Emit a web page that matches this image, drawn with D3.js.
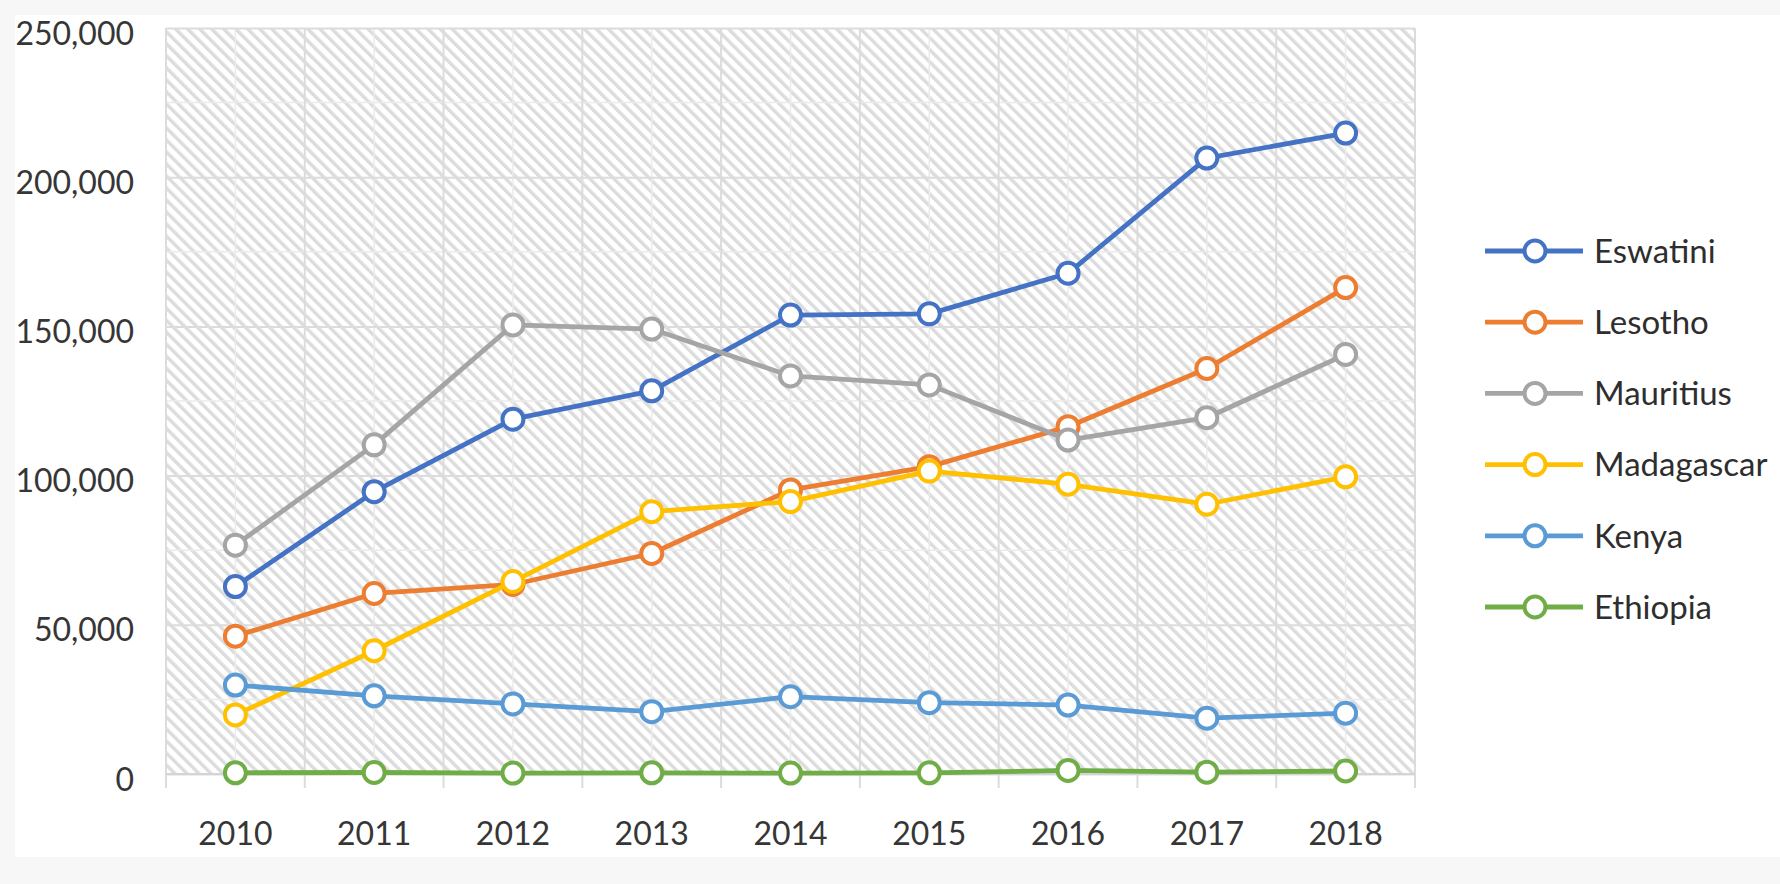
<!DOCTYPE html>
<html>
<head>
<meta charset="utf-8">
<script src="https://cdn.jsdelivr.net/npm/d3@7"></script>
<style>
  html, body { margin: 0; padding: 0; background: #f7f7f7; }
  svg { display: block; }
  text { font-family: Lato, "Open Sans", sans-serif; }
</style>
</head>
<body>
<svg id="chart" width="1780" height="884"></svg>
<script>
// ---- data ----
const years = ["2010", "2011", "2012", "2013", "2014", "2015", "2016", "2017", "2018"];
const seriesNames = ["Eswatini", "Lesotho", "Mauritius", "Madagascar", "Kenya", "Ethiopia"];
const eswatini   = [62800, 94600, 118900, 128400, 153800, 154200, 167800, 206400, 214800];
const lesotho    = [46200, 60500, 63500, 73900, 95200, 103000, 116400, 135900, 163000];
const mauritius  = [76700, 110300, 150500, 149100, 133400, 130400, 111900, 119400, 140600];
const madagascar = [19800, 41300, 64500, 87900, 91300, 101500, 97100, 90400, 99600];
const kenya      = [29800, 26200, 23500, 20900, 25900, 23900, 23100, 18700, 20400];
const ethiopia   = [400, 500, 300, 400, 300, 400, 1200, 600, 1000];
const yTicks = [0, 50000, 100000, 150000, 200000, 250000];
const colors = ["#4472C4", "#ED7D31", "#A5A5A5", "#FFC000", "#5B9BD5", "#70AD47"];

const seriesValues = [eswatini, lesotho, mauritius, madagascar, kenya, ethiopia];
const series = seriesNames.map((name, i) => ({
  name, color: colors[i],
  values: years.map((yr, j) => ({ year: yr, value: seriesValues[i][j] }))
}));

// ---- layout ----
const W = 1780, H = 884;
const plot = { left: 166, right: 1415, top: 28, bottom: 774 };
const svg = d3.select("#chart");

svg.append("rect").attr("x", 0).attr("y", 0).attr("width", W).attr("height", H).attr("fill", "#f7f7f7");
svg.append("rect").attr("x", 15).attr("y", 15).attr("width", W - 15).attr("height", 842).attr("fill", "#ffffff");

// hatch pattern
const defs = svg.append("defs");
const pat = defs.append("pattern")
  .attr("id", "hatch").attr("patternUnits", "userSpaceOnUse")
  .attr("width", 8.5).attr("height", 8.5)
  .attr("patternTransform", "rotate(-45)");
pat.append("rect").attr("width", 8.5).attr("height", 8.5).attr("fill", "#ffffff");
pat.append("rect").attr("x", 0).attr("y", 0).attr("width", 3.4).attr("height", 8.5).attr("fill", "#dcdcdc");

const x = d3.scaleBand().domain(years).range([plot.left, plot.right]).padding(0);
const y = d3.scaleLinear().domain([0, 250000]).range([plot.bottom, plot.top]);
const cx = d => x(d) + x.bandwidth() / 2;

// plot area hatch
svg.append("rect")
  .attr("x", plot.left).attr("y", plot.top)
  .attr("width", plot.right - plot.left).attr("height", plot.bottom - plot.top)
  .attr("fill", "url(#hatch)");

// faint minor lines (category centres and half steps)
const minor = svg.append("g").attr("class", "minor");
minor.selectAll("line.mv").data(years).join("line")
  .attr("x1", d => cx(d)).attr("x2", d => cx(d))
  .attr("y1", plot.top).attr("y2", plot.bottom)
  .attr("stroke", "#ebebeb").attr("stroke-width", 1.5);
minor.selectAll("line.mh").data(d3.range(25000, 250000, 50000)).join("line")
  .attr("x1", plot.left).attr("x2", plot.right)
  .attr("y1", d => y(d)).attr("y2", d => y(d))
  .attr("stroke", "#ebebeb").attr("stroke-width", 1.5);

// horizontal gridlines via axis
const gy = svg.append("g")
  .attr("transform", `translate(${plot.left},0)`)
  .call(d3.axisLeft(y).tickValues(yTicks).tickSize(-(plot.right - plot.left)).tickFormat(""));
gy.select(".domain").remove();
gy.selectAll(".tick line").attr("stroke", "#dcdcdc").attr("stroke-width", 2);

// vertical gridlines at category boundaries (extend below as tick marks)
const bounds = years.map(d => x(d)).concat([plot.right]);
svg.append("g").selectAll("line").data(bounds).join("line")
  .attr("x1", d => d).attr("x2", d => d)
  .attr("y1", plot.top).attr("y2", plot.bottom + 14)
  .attr("stroke", "#dcdcdc").attr("stroke-width", 2);

// bottom axis line
svg.append("line")
  .attr("x1", plot.left).attr("x2", plot.right)
  .attr("y1", plot.bottom).attr("y2", plot.bottom)
  .attr("stroke", "#d4d4d4").attr("stroke-width", 2);

// y axis labels
const yAxis = svg.append("g")
  .attr("transform", `translate(134,0)`)
  .call(d3.axisLeft(y).tickValues(yTicks).tickSize(0).tickPadding(0).tickFormat(d3.format(",")));
yAxis.select(".domain").remove();
yAxis.selectAll(".tick text")
  .attr("font-size", 32).attr("fill", "#363636").attr("dy", "0.5em")
  .style("font-family", "Lato, 'Open Sans', sans-serif");

// x axis labels
const xAxis = svg.append("g")
  .attr("transform", `translate(0,${plot.bottom})`)
  .call(d3.axisBottom(x).tickSize(0).tickPadding(0));
xAxis.select(".domain").remove();
xAxis.selectAll(".tick text")
  .attr("font-size", 32).attr("fill", "#363636").attr("y", 60).attr("dy", "0.35em")
  .style("font-family", "Lato, 'Open Sans', sans-serif");

// lines + markers
const line = d3.line().x(d => cx(d.year)).y(d => y(d.value));
series.forEach(s => {
  const g = svg.append("g");
  g.append("path").datum(s.values)
    .attr("d", line).attr("fill", "none")
    .attr("stroke", s.color).attr("stroke-width", 4.8)
    .attr("stroke-linejoin", "round").attr("stroke-linecap", "round");
  g.selectAll("circle").data(s.values).join("circle")
    .attr("cx", d => cx(d.year)).attr("cy", d => y(d.value)).attr("r", 10.5)
    .attr("fill", "#ffffff").attr("stroke", s.color).attr("stroke-width", 4);
});

// legend
const legendY0 = 251, legendStep = 71.2;
const legend = svg.append("g");
series.forEach((s, i) => {
  const ly = legendY0 + i * legendStep;
  const g = legend.append("g").attr("transform", `translate(0,${ly})`);
  g.append("line").attr("x1", 1485).attr("x2", 1583).attr("y1", 0).attr("y2", 0)
    .attr("stroke", s.color).attr("stroke-width", 4.8);
  g.append("circle").attr("cx", 1535).attr("cy", 0).attr("r", 10.5)
    .attr("fill", "#ffffff").attr("stroke", s.color).attr("stroke-width", 4);
  g.append("text").attr("x", 1594).attr("y", 0).attr("dy", "0.36em")
    .attr("font-size", 33).attr("fill", "#2e2e2e").text(s.name);
});
</script>
</body>
</html>
